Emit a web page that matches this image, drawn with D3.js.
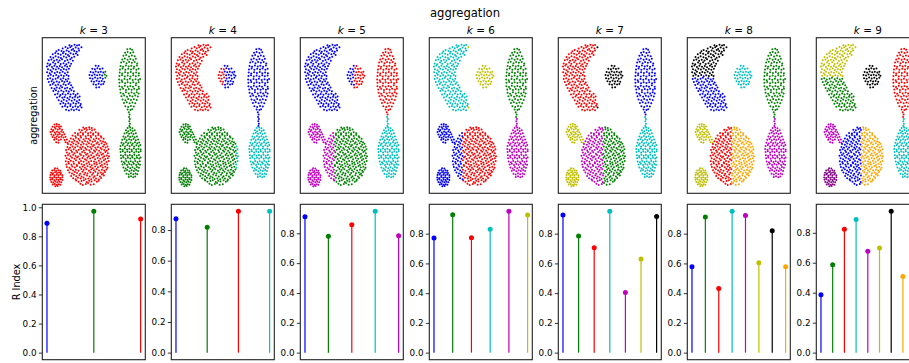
<!DOCTYPE html>
<html><head><meta charset="utf-8">
<script src="https://cdn.jsdelivr.net/npm/d3@7"></script>
<style>body{margin:0;background:#fff} svg{display:block} text{font-family:"DejaVu Sans",sans-serif}</style>
</head><body><svg id="c" width="909" height="363"></svg>
<script>
// ---------------- data ----------------
const kValues = [3, 4, 5, 6, 7, 8, 9];
const colorNames = ["#0000ff", "#008000", "#ff0000", "#00bfbf", "#bf00bf", "#bfbf00", "#000000", "#ffa500", "#800080"];
const rIndex = [
  [0.890, 0.972, 0.919],
  [0.874, 0.818, 0.922, 0.922],
  [0.911, 0.780, 0.858, 0.947, 0.784],
  [0.771, 0.928, 0.773, 0.829, 0.950, 0.926],
  [0.926, 0.784, 0.705, 0.950, 0.404, 0.629, 0.916],
  [0.577, 0.912, 0.431, 0.950, 0.923, 0.604, 0.820, 0.577],
  [0.387, 0.587, 0.823, 0.889, 0.676, 0.698, 0.943, 0.509, 0.750]
];
const yTickValues = [0.0, 0.2, 0.4, 0.6, 0.8, 1.0];
const datasetName = "aggregation";
const metricName = "R Index";

// aggregation points (x, y pairs) by group
const groupA = [11.3,29.05,12.1,28.9,13.1,29.15,14.0,29.0,14.7,29.1,
8.9,28.45,9.9,28.7,10.7,28.5,11.6,28.65,12.6,28.35,13.5,28.6,14.5,28.45,15.55,28.65,
6.7,27.9,7.5,28.15,8.5,27.95,9.3,27.8,10.3,28.05,11.1,27.85,12.1,28.15,13.0,27.95,13.9,27.8,14.7,28.05,
5.4,27.3,6.3,27.55,7.3,27.4,8.2,27.2,9.0,27.5,10.0,27.35,10.8,27.15,11.7,27.5,12.7,27.3,13.6,27.45,14.2,27.15,
4.6,26.8,5.6,26.65,6.4,26.95,7.4,26.75,8.3,26.6,9.3,26.9,10.2,26.7,11.2,26.95,12.1,26.65,13.0,26.85,
4.0,26.15,4.9,26.3,5.9,26.05,6.8,26.25,7.8,26.1,8.7,26.35,9.7,26.0,10.6,26.2,11.6,26.35,12.5,26.05,
3.6,25.55,4.5,25.4,5.5,25.7,6.3,25.5,7.3,25.75,8.2,25.45,9.2,25.6,10.2,25.4,11.0,25.7,11.9,25.5,
3.35,24.95,4.2,25.15,5.1,24.85,6.0,25.1,6.9,24.9,7.9,25.05,8.7,24.8,9.7,25.1,10.5,24.9,11.5,25.05,
3.7,24.4,4.6,24.2,5.6,24.5,6.5,24.35,7.5,24.55,8.3,24.25,9.3,24.45,10.2,24.3,11.1,24.5,
3.4,23.85,4.3,23.65,5.1,23.95,6.1,23.7,7.0,23.9,7.9,23.75,8.9,23.95,9.7,23.65,10.7,23.85,
3.8,23.15,4.7,23.35,5.6,23.1,6.6,23.3,7.5,23.05,8.4,23.25,9.3,23.1,10.3,23.3,11.0,23.1,
3.6,22.55,4.5,22.7,5.4,22.45,6.4,22.6,7.2,22.75,8.2,22.5,9.1,22.7,10.0,22.45,10.9,22.6,
4.0,21.95,5.0,22.1,5.8,21.85,6.8,22.05,7.7,21.9,8.7,22.15,9.5,21.95,10.5,22.1,11.4,21.85,
4.5,21.35,5.4,21.55,6.4,21.3,7.3,21.45,8.2,21.25,9.2,21.5,10.0,21.35,11.0,21.55,11.9,21.3,
5.0,20.8,6.0,20.65,6.8,20.9,7.8,20.75,8.7,20.95,9.7,20.7,10.5,20.85,11.5,20.65,12.4,20.9,
5.6,20.2,6.5,20.35,7.4,20.1,8.4,20.3,9.2,20.05,10.2,20.25,11.1,20.1,12.0,20.35,12.9,20.15,
6.2,19.55,7.1,19.7,8.1,19.45,8.9,19.65,9.9,19.5,10.8,19.75,11.7,19.55,12.7,19.7,13.5,19.45,14.2,19.7,
6.9,18.95,7.8,19.15,8.8,18.9,9.6,19.05,10.6,18.85,11.5,19.1,12.4,18.9,13.3,19.1,14.2,18.95,14.9,19.15,
7.5,18.4,8.5,18.25,9.3,18.5,10.3,18.3,11.2,18.55,12.1,18.35,13.1,18.5,13.9,18.25,14.8,18.45,
8.1,17.75,9.1,17.9,9.9,17.7,10.9,17.85,11.7,17.65,12.7,17.9,13.6,17.75,14.5,17.95,15.3,17.7,
8.8,17.15,9.7,17.3,10.6,17.1,11.6,17.3,12.5,17.05,13.4,17.25,14.3,17.1,15.1,17.35,15.6,17.0,
10.1,16.6,11.1,16.45,12.0,16.65,12.9,16.5,13.8,16.7,14.7,16.5];
const groupB = [20.6,25.1,21.6,25.05,
19.4,24.5,20.3,24.4,21.2,24.6,22.1,24.45,23.0,24.55,
18.8,23.9,19.7,23.8,20.6,24.0,21.5,23.85,22.4,23.95,23.3,23.8,24.0,23.95,
18.4,23.3,19.3,23.2,20.2,23.4,21.1,23.25,22.0,23.35,22.9,23.2,23.8,23.4,24.4,23.15,
18.6,22.7,19.5,22.6,20.4,22.8,21.3,22.65,22.2,22.75,23.1,22.6,24.0,22.75,
19.1,22.1,20.0,22.0,20.9,22.2,21.8,22.05,22.7,22.15,23.6,22.0,
19.8,21.5,20.7,21.4,21.6,21.6,22.5,21.45,23.3,21.55,
20.8,20.9,21.8,20.95];
const groupC = [31.8,28.3,32.8,28.4,33.5,28.2,
31.0,27.6,31.9,27.75,32.9,27.55,33.9,27.7,
30.4,27.05,31.4,27.15,32.4,26.9,33.4,27.1,34.4,26.95,
30.0,26.3,30.9,26.5,31.9,26.25,32.9,26.4,33.9,26.2,34.8,26.45,
29.6,25.7,30.5,25.85,31.5,25.6,32.4,25.8,33.4,25.65,34.4,25.8,35.3,25.55,
29.4,25.05,30.3,24.9,31.3,25.15,32.3,24.95,33.2,25.1,34.2,24.9,35.2,25.15,
29.2,24.35,30.1,24.55,31.1,24.3,32.1,24.5,33.1,24.35,34.0,24.55,35.0,24.3,35.8,24.5,
29.1,23.8,30.0,23.6,31.0,23.85,32.0,23.7,33.0,23.9,33.9,23.65,34.9,23.8,35.9,23.65,
29.0,23.1,29.9,23.25,30.9,23.0,31.9,23.2,32.9,23.0,33.9,23.25,34.8,23.05,35.8,23.2,
28.9,22.45,29.8,22.3,30.8,22.55,31.8,22.4,32.7,22.6,33.7,22.35,34.7,22.5,35.7,22.35,36.3,22.55,
29.0,21.8,30.0,21.95,31.0,21.7,31.9,21.9,32.9,21.75,33.9,21.9,34.9,21.7,35.8,21.9,
29.0,21.15,29.9,21.0,30.9,21.25,31.9,21.05,32.9,21.2,33.8,21.05,34.8,21.3,35.8,21.05,
29.3,20.5,30.3,20.65,31.3,20.4,32.3,20.6,33.3,20.45,34.2,20.65,35.2,20.45,35.9,20.65,
29.4,19.85,30.3,19.7,31.3,19.95,32.3,19.75,33.3,19.9,34.2,19.75,35.1,19.95,35.8,19.75,
29.7,19.2,30.7,19.35,31.7,19.1,32.7,19.3,33.6,19.15,34.6,19.35,35.5,19.15,
30.1,18.55,31.1,18.4,32.1,18.65,33.1,18.45,34.1,18.6,35.1,18.45,
30.6,17.9,31.6,18.05,32.6,17.85,33.6,18.0,34.6,17.85,
31.1,17.25,32.1,17.1,33.1,17.3,34.1,17.2,
31.9,16.65,32.9,16.55,33.5,16.7,
32.3,16.1,32.6,15.65,32.4,15.2,32.7,14.8];
const groupD = [32.5,14.35,32.7,13.9,32.5,13.45,
31.9,13.05,32.8,13.15,33.6,13.0,
31.3,12.6,32.1,12.45,32.9,12.65,33.7,12.5,34.4,12.6,
30.8,12.0,31.6,12.15,32.4,11.95,33.2,12.1,34.0,11.9,34.8,12.05,
30.4,11.4,31.2,11.25,32.0,11.5,32.8,11.3,33.6,11.45,34.4,11.25,35.2,11.4,
30.0,10.8,30.8,10.95,31.6,10.7,32.4,10.9,33.2,10.75,34.0,10.95,34.8,10.7,35.6,10.85,
29.7,10.2,30.5,10.05,31.3,10.3,32.1,10.1,32.9,10.25,33.7,10.05,34.5,10.3,35.3,10.1,36.0,10.25,
29.4,9.6,30.2,9.75,31.0,9.5,31.8,9.7,32.6,9.55,33.4,9.75,34.2,9.5,35.0,9.7,35.8,9.55,36.4,9.75,
29.3,9.0,30.1,8.85,30.9,9.1,31.7,8.9,32.5,9.05,33.3,8.85,34.1,9.1,34.9,8.9,35.7,9.05,36.5,8.9,
29.4,8.4,30.2,8.55,31.0,8.3,31.8,8.5,32.6,8.35,33.4,8.55,34.2,8.3,35.0,8.5,35.8,8.35,36.5,8.55,
29.5,7.8,30.3,7.65,31.1,7.9,31.9,7.7,32.7,7.85,33.5,7.65,34.3,7.9,35.1,7.7,35.9,7.85,
29.6,7.2,30.4,7.35,31.2,7.1,32.0,7.3,32.8,7.15,33.6,7.35,34.4,7.1,35.2,7.3,36.0,7.15,36.5,7.35,
29.8,6.6,30.6,6.45,31.4,6.7,32.2,6.5,33.0,6.65,33.8,6.45,34.6,6.7,35.4,6.5,36.2,6.65,
30.1,6.0,30.9,6.15,31.7,5.9,32.5,6.1,33.3,5.95,34.1,6.15,34.9,5.9,35.7,6.1,36.3,5.95,
30.4,5.4,31.2,5.25,32.0,5.5,32.8,5.3,33.6,5.45,34.4,5.25,35.2,5.5,35.9,5.35,
30.9,4.8,31.7,4.95,32.5,4.7,33.3,4.9,34.1,4.75,34.9,4.95,35.6,4.75,
31.5,4.2,32.3,4.05,33.1,4.3,33.9,4.1,34.7,4.25,35.3,4.1,
32.3,3.6,33.1,3.75,33.9,3.55,34.6,3.7];
const groupE = [6.0,13.75,6.8,13.85,7.6,13.7,
5.3,13.3,6.1,13.2,6.8,13.4,7.6,13.25,8.3,13.35,
4.9,12.8,5.6,12.65,6.4,12.9,7.2,12.75,7.9,12.9,8.7,12.7,
4.6,12.3,5.3,12.45,6.1,12.2,6.9,12.35,7.6,12.2,8.4,12.4,9.1,12.25,
4.9,11.8,5.7,11.65,6.4,11.9,7.2,11.75,7.9,11.9,8.7,11.7,9.5,11.85,
5.3,11.3,6.1,11.15,6.8,11.4,7.6,11.25,8.4,11.35,9.2,11.2,9.9,11.35,
5.9,10.8,6.7,10.95,7.5,10.7,8.3,10.85,9.6,10.75,10.4,10.85,
6.6,10.3,7.4,10.2,9.9,10.3,10.6,10.2];
const groupF = [6.2,5.3,7.0,5.25,
5.2,4.85,5.9,4.95,6.6,4.75,7.4,4.9,8.1,4.8,
4.8,4.4,5.5,4.3,6.2,4.5,6.9,4.35,7.6,4.45,8.3,4.35,
4.6,3.95,5.3,4.05,6.0,3.85,6.7,4.0,7.4,3.9,8.1,4.05,8.8,3.9,
4.5,3.5,5.2,3.4,5.9,3.6,6.6,3.45,7.3,3.55,8.0,3.4,8.8,3.55,
4.6,3.05,5.3,3.15,6.0,2.95,6.8,3.1,7.5,3.0,8.2,3.15,8.8,3.0,
4.9,2.6,5.6,2.5,6.3,2.7,7.0,2.55,7.7,2.65,8.4,2.55,
5.4,2.15,6.1,2.25,6.8,2.1,7.5,2.2,8.1,2.1,
6.3,1.8,7.1,1.85];
const groupG = [15.2,2.3,16.0,2.05,17.1,2.25,17.9,2.4,18.8,2.1,19.9,2.2,
13.7,2.9,14.5,2.65,15.6,2.8,16.4,2.95,17.4,2.6,18.3,2.85,19.1,2.7,20.2,2.95,21.0,2.65,21.6,2.85,
12.6,3.35,13.5,3.15,14.3,3.45,15.3,3.3,16.3,3.5,17.0,3.2,18.0,3.3,19.0,3.15,19.8,3.5,20.7,3.3,21.7,3.1,22.5,3.4,
11.9,3.8,12.9,4.0,13.7,3.75,14.8,3.9,15.6,3.7,16.5,4.05,17.5,3.85,18.5,3.7,19.3,4.0,20.2,3.75,21.2,3.9,22.1,3.7,22.8,4.05,23.5,3.85,
11.3,4.45,12.2,4.25,13.2,4.55,14.0,4.35,15.1,4.2,15.9,4.6,16.9,4.4,17.7,4.25,18.7,4.5,19.7,4.35,20.5,4.6,21.4,4.3,22.4,4.45,23.2,4.25,23.9,4.55,
10.8,4.9,11.8,5.1,12.6,4.85,13.6,5.0,14.5,4.8,15.5,5.15,16.3,4.95,17.3,5.1,18.2,4.8,19.0,5.05,20.0,4.9,20.9,5.15,21.8,4.85,22.8,5.0,23.6,4.8,24.4,5.05,
10.4,5.5,11.3,5.35,12.3,5.6,13.2,5.4,14.0,5.7,15.0,5.45,16.0,5.6,16.8,5.35,17.7,5.65,18.7,5.5,19.5,5.3,20.4,5.6,21.4,5.45,22.3,5.7,23.1,5.4,24.0,5.55,24.8,5.35,
10.2,6.0,11.1,6.2,12.0,5.95,12.9,6.15,13.9,5.9,14.7,6.25,15.6,6.05,16.5,5.9,17.4,6.2,18.4,6.05,19.2,5.85,20.1,6.15,21.0,6.0,22.0,6.25,22.8,5.9,23.7,6.15,24.7,6.0,
10.0,6.65,10.9,6.5,11.8,6.75,12.7,6.55,13.6,6.8,14.6,6.45,15.4,6.7,16.3,6.55,17.3,6.8,18.1,6.5,19.0,6.7,20.0,6.6,20.8,6.4,21.7,6.75,22.7,6.55,23.5,6.8,24.4,6.5,25.2,6.7,
10.3,7.2,11.2,7.0,12.2,7.3,13.1,7.1,14.0,7.35,14.9,7.05,15.9,7.25,16.8,7.0,17.7,7.3,18.6,7.15,19.5,7.35,20.4,7.0,21.3,7.25,22.2,7.1,23.1,7.35,24.0,7.05,24.9,7.2,
9.9,7.7,10.8,7.85,11.7,7.6,12.6,7.9,13.5,7.65,14.4,7.55,15.4,7.85,16.3,7.65,17.2,7.9,18.1,7.6,19.0,7.8,20.0,7.55,20.9,7.85,21.8,7.7,22.7,7.9,23.6,7.6,24.5,7.75,25.3,7.6,
10.4,8.3,11.3,8.15,12.2,8.4,13.1,8.2,14.1,8.35,15.0,8.1,15.8,8.4,16.8,8.25,17.7,8.1,18.6,8.4,19.5,8.2,20.4,8.45,21.3,8.15,22.3,8.3,23.2,8.1,24.0,8.4,24.9,8.2,
10.1,8.8,11.0,8.95,11.9,8.7,12.8,8.95,13.7,8.65,14.6,8.85,15.5,9.0,16.4,8.7,17.3,8.9,18.3,8.75,19.1,9.0,20.0,8.7,20.9,8.9,21.8,8.65,22.7,8.95,23.6,8.8,24.5,8.65,25.1,8.95,
10.6,9.4,11.5,9.25,12.4,9.5,13.3,9.3,14.2,9.55,15.1,9.3,16.0,9.45,16.9,9.2,17.8,9.5,18.7,9.35,19.6,9.55,20.5,9.25,21.4,9.4,22.3,9.2,23.2,9.5,24.1,9.3,24.8,9.5,
10.8,9.95,11.8,9.8,12.7,10.05,13.6,9.85,14.5,10.1,15.4,9.8,16.3,10.0,17.3,9.85,18.2,10.1,19.1,9.9,20.0,9.75,20.9,10.05,21.8,9.85,22.7,10.1,23.6,9.8,24.4,10.0,
11.3,10.5,12.2,10.35,13.1,10.6,14.0,10.4,14.9,10.65,15.8,10.35,16.8,10.55,17.7,10.4,18.6,10.65,19.5,10.4,20.4,10.55,21.3,10.3,22.3,10.6,23.2,10.45,23.9,10.3,
11.8,11.05,12.7,10.9,13.6,11.15,14.5,10.95,15.4,11.2,16.3,10.9,17.2,11.1,18.1,10.95,19.0,11.2,19.9,10.9,20.8,11.1,21.7,10.95,22.6,11.2,23.4,11.0,
12.4,11.6,13.4,11.45,14.3,11.7,15.2,11.5,16.1,11.75,17.0,11.45,17.9,11.65,18.8,11.5,19.7,11.75,20.6,11.5,21.5,11.7,22.4,11.45,
13.3,12.1,14.3,12.0,15.2,12.25,16.1,12.05,17.0,12.3,17.9,12.05,18.8,12.2,19.7,12.0,20.6,12.25,21.5,12.05,
14.8,12.7,15.7,12.6,16.6,12.85,17.5,12.65,18.4,12.8,19.3,12.6,20.2,12.75,
16.2,13.15,17.2,13.05,18.3,13.2,19.2,13.05];

// cluster label of each group for each k: [group, label] or [group, labelAtOrAbove, axis, threshold, labelBelow]
const assignK3 = [["A",0],["B",1,"x",23.7,0],["C",1],["D",1],["E",2],["F",2],["G",2]];
const assignK4 = [["A",2],["B",0,"x",20.6,2],["C",0],["D",0,"y",13.4,3],["E",1],["F",1],["G",3,"x",24.7,1]];
const assignK5 = [["A",0],["B",2,"x",20.8,0],["C",2,"y",15.5,3],["D",3],["E",4],["F",4],["G",1,"x",13.9,4]];
const assignK6 = [["A",5,"x",15.45,3],["B",5],["C",1,"y",15.0,4],["D",4],["E",0],["F",0],["G",2,"x",13.6,0]];
const assignK7 = [["A",6,"x",15.45,2],["B",6],["C",0,"y",15.6,3],["D",3],["E",5],["F",5],["G",1,"x",17.6,4]];
const assignK8 = [["A",6,"y",23.1,0],["B",3],["C",1,"y",15.0,4],["D",4],["E",5],["F",5],["G",7,"x",17.4,2]];
const assignK9 = [["A",5,"y",23.0,1],["B",6],["C",2,"y",15.0,3],["D",3],["E",4],["F",8],["G",7,"x",17.7,0]];
const assignments = [assignK3, assignK4, assignK5, assignK6, assignK7, assignK8, assignK9];

// ---------------- layout ----------------
const L0 = 42.3, STEP = 129, PW = 103;
const TOP_Y = 37.7, TOP_H = 155.6, BOT_Y = 204.3, BOT_H = 155.4;

const groups = {A: groupA, B: groupB, C: groupC, D: groupD, E: groupE, F: groupF, G: groupG};
const points = [];
for (const [g, arr] of Object.entries(groups)) {
  for (let i = 0; i < arr.length; i += 2) points.push({g, x: arr[i], y: arr[i + 1]});
}
function labelOf(p, rules) {
  const r = rules.find(q => q[0] === p.g);
  if (r.length === 2) return r[1];
  const v = r[2] === "x" ? p.x : p.y;
  return v >= r[3] ? r[1] : r[4];
}
const xExt = d3.extent(points, d => d.x), yExt = d3.extent(points, d => d.y);
const xPad = (xExt[1] - xExt[0]) * 0.05, yPad = (yExt[1] - yExt[0]) * 0.05;
const xDom = [xExt[0] - xPad, xExt[1] + xPad], yDom = [yExt[0] - yPad, yExt[1] + yPad];

const svg = d3.select("#c");
svg.append("rect").attr("width", 909).attr("height", 363).attr("fill", "#fff");

svg.append("text").attr("x", 465).attr("y", 16.5).attr("text-anchor", "middle")
  .attr("font-size", 11.6).text(datasetName);

kValues.forEach((k, i) => {
  const left = L0 + i * STEP;
  // ---- scatter ----
  const gT = svg.append("g").attr("transform", `translate(${left},${TOP_Y})`);
  const x = d3.scaleLinear().domain(xDom).range([0, PW]);
  const y = d3.scaleLinear().domain(yDom).range([TOP_H, 0]);
  const rules = assignments[i];
  gT.selectAll("circle").data(points).join("circle")
    .attr("cx", d => x(d.x)).attr("cy", d => y(d.y)).attr("r", 1.0)
    .attr("fill", d => colorNames[labelOf(d, rules)]);
  gT.append("rect").attr("width", PW).attr("height", TOP_H).attr("fill", "none")
    .attr("stroke", "#222").attr("stroke-width", 1.1);
  const t = svg.append("text").attr("x", left + PW / 2).attr("y", 33.6)
    .attr("text-anchor", "middle").attr("font-size", 10.4);
  t.append("tspan").attr("font-style", "italic").text("k");
  t.append("tspan").text(" = " + k);

  // ---- stem ----
  const vals = rIndex[i];
  const mx = d3.max(vals);
  const xs = d3.scaleLinear().domain([-0.05 * (k - 1), 1.05 * (k - 1)]).range([0, PW]);
  const ys = d3.scaleLinear().domain([-0.05 * mx, 1.05 * mx]).range([BOT_H, 0]);
  const gB = svg.append("g").attr("transform", `translate(${left},${BOT_Y})`);
  const ticks = yTickValues.filter(v => v <= ys.domain()[1] + 1e-9);
  const ax = d3.axisLeft(ys).tickValues(ticks).tickFormat(d3.format(".1f")).tickSize(3.5).tickPadding(2.2);
  const axg = gB.append("g").call(ax);
  axg.select(".domain").remove();
  axg.selectAll("line").attr("stroke", "#000").attr("stroke-width", 0.8);
  axg.selectAll("text").attr("font-size", 8.8).attr("fill", "#000")
    .attr("font-family", '"DejaVu Sans",sans-serif');
  vals.forEach((v, j) => {
    gB.append("line").attr("x1", xs(j)).attr("x2", xs(j)).attr("y1", ys(0)).attr("y2", ys(v))
      .attr("stroke", colorNames[j]).attr("stroke-width", 1.2);
  });
  vals.forEach((v, j) => {
    gB.append("circle").attr("cx", xs(j)).attr("cy", ys(v)).attr("r", 2.5).attr("fill", colorNames[j]);
  });
  gB.append("rect").attr("width", PW).attr("height", BOT_H).attr("fill", "none")
    .attr("stroke", "#222").attr("stroke-width", 1.1);
});

svg.append("text").attr("transform", `translate(37.4,${TOP_Y + TOP_H / 2}) rotate(-90)`)
  .attr("text-anchor", "middle").attr("font-size", 9.7).text(datasetName);
svg.append("text").attr("transform", `translate(20,${BOT_Y + BOT_H / 2}) rotate(-90)`)
  .attr("text-anchor", "middle").attr("font-size", 9.7).text(metricName);
</script></body></html>
